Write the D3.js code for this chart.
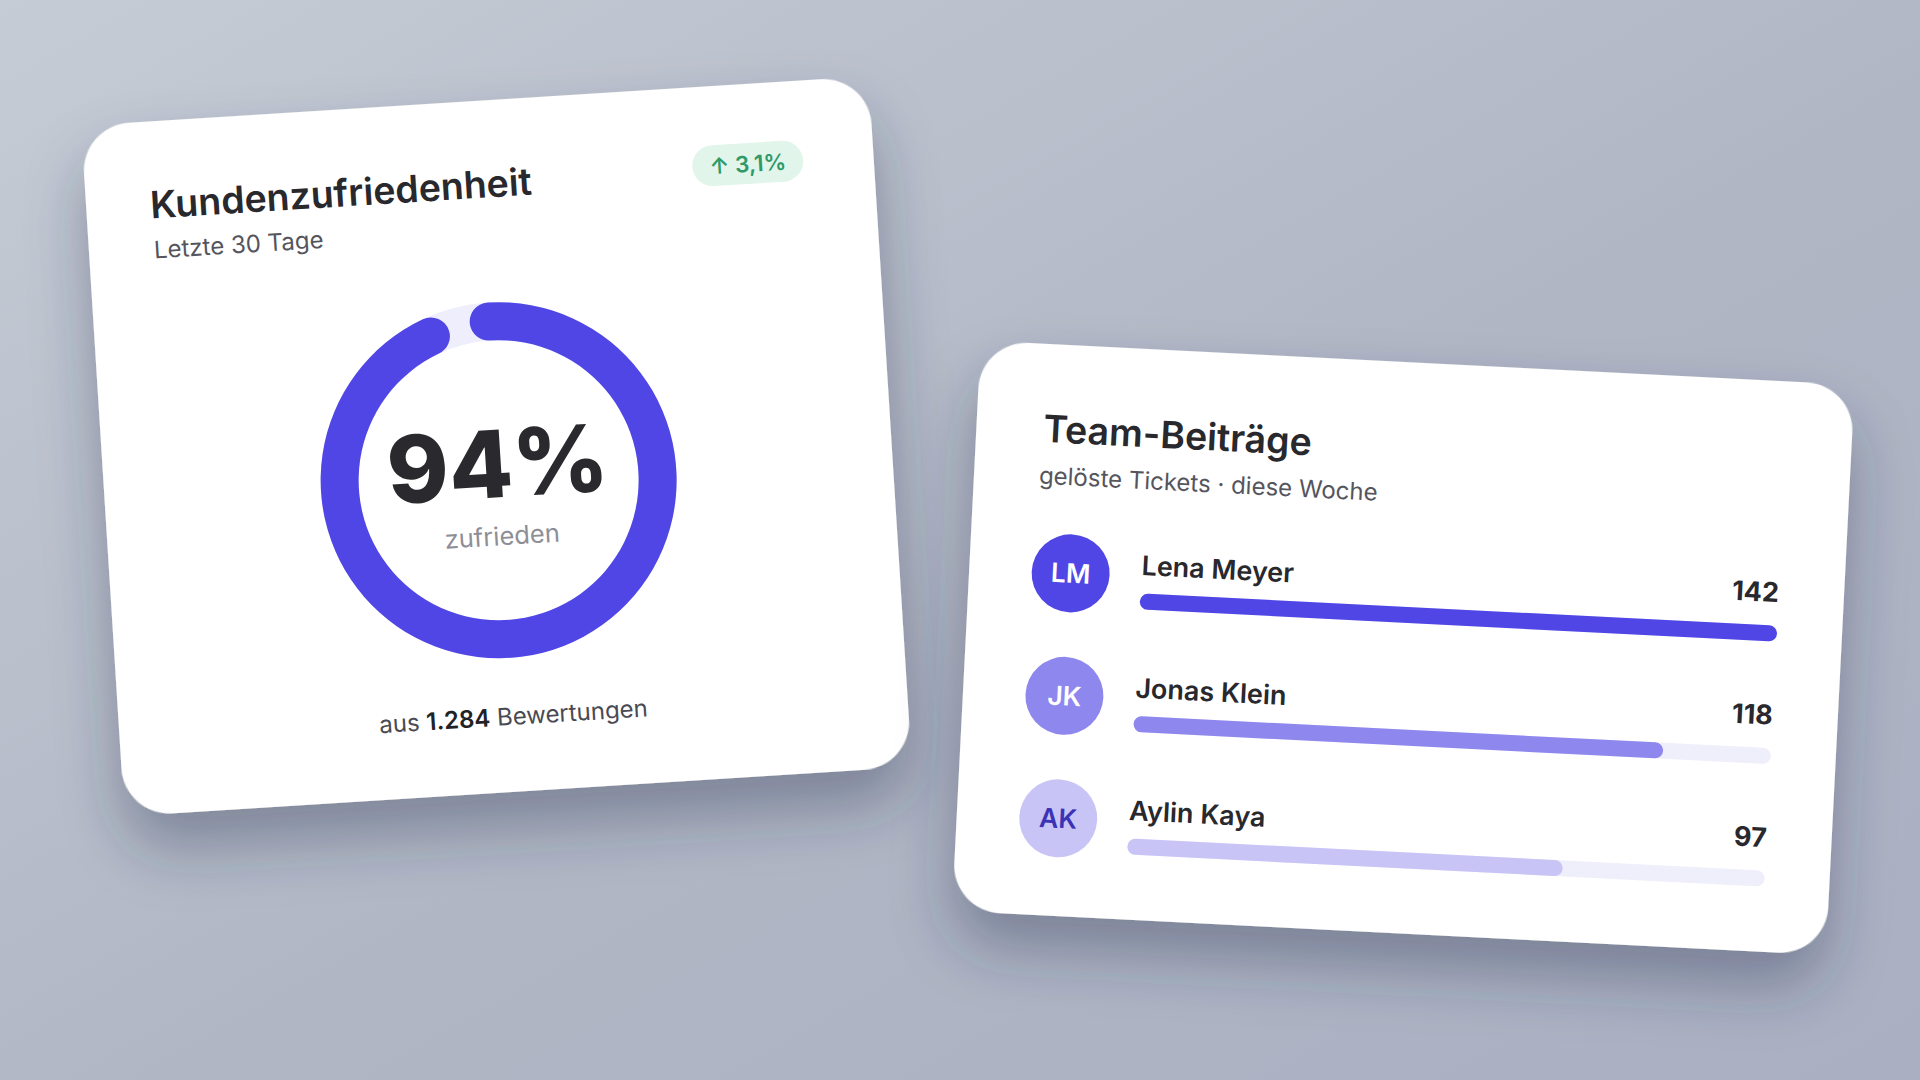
<!DOCTYPE html>
<html>
<head>
<meta charset="utf-8">
<script src="https://cdn.jsdelivr.net/npm/d3@7"></script>
<style>
  html, body { margin: 0; padding: 0; overflow: hidden; }
  text { font-family: Inter, "Noto Sans", sans-serif; }
</style>
</head>
<body>
<div id="chart"></div>
<script>
//Width and height
const w = 1920;
const h = 1080;

// gauge card
const satisfied = 94;
const trend = 3.1;
const ratings = 1284;

// team card
const initials = ['LM', 'JK', 'AK'];
const names = ['Lena Meyer', 'Jonas Klein', 'Aylin Kaya'];
const tickets = [142, 118, 97];

const barColors = ['#4f46e5', '#8e88ee', '#c8c4f6'];
const initialColors = ['#ffffff', '#ffffff', '#3b33b5'];

const de = d3.formatLocale({decimal: ',', thousands: '.', grouping: [3], currency: ['', ' €']});

//Create SVG element
const svg = d3.select('#chart')
      .append('svg')
      .attr('width', w)
      .attr('height', h);

const defs = svg.append('defs');

const bg = defs.append('linearGradient')
      .attr('id', 'bg')
      .attr('x1', 0).attr('y1', 0)
      .attr('x2', 1).attr('y2', 1);
bg.append('stop').attr('offset', '0%').attr('stop-color', '#c6ccd5');
bg.append('stop').attr('offset', '55%').attr('stop-color', '#b0b6c4');
bg.append('stop').attr('offset', '100%').attr('stop-color', '#aab0c2');

const shadow = defs.append('filter')
      .attr('id', 'shadow')
      .attr('x', '-30%').attr('y', '-30%')
      .attr('width', '160%').attr('height', '170%');
shadow.append('feDropShadow')
      .attr('dx', 0)
      .attr('dy', 34)
      .attr('stdDeviation', 30)
      .attr('flood-color', '#2b3350')
      .attr('flood-opacity', 0.38);

svg.append('rect')
   .attr('width', w)
   .attr('height', h)
   .attr('fill', 'url(#bg)');

// card helper: centred + rotated group
function card(cx, cy, cw, ch, angle) {
  const g = svg.append('g')
        .attr('transform', 'translate(' + cx + ',' + cy + ') rotate(' + angle + ') translate(' + (-cw / 2) + ',' + (-ch / 2) + ')');
  g.append('rect')
   .attr('width', cw)
   .attr('height', ch)
   .attr('rx', 48)
   .attr('fill', '#ffffff')
   .attr('filter', 'url(#shadow)');
  return g;
}

/* ---------- Kundenzufriedenheit ---------- */
const c1w = 789, c1h = 692;
const c1 = card(496.5, 446.3, c1w, c1h, -3.6);

c1.append('text')
  .text('Kundenzufriedenheit')
  .attr('x', 64)
  .attr('y', 97)
  .attr('font-size', 37.5)
  .attr('font-weight', 600)
  .attr('fill', '#28282d');

c1.append('text')
  .text('Letzte 30 Tage')
  .attr('x', 65)
  .attr('y', 137)
  .attr('font-size', 24)
  .attr('fill', '#55555d');

// trend badge
c1.append('rect')
  .attr('x', 607.5)
  .attr('y', 59)
  .attr('width', 111)
  .attr('height', 41)
  .attr('rx', 20.5)
  .attr('fill', '#e2f5eb');

c1.append('text')
  .text('↑ ' + de.format('.1f')(trend) + '%')
  .attr('x', 663)
  .attr('y', 88)
  .attr('text-anchor', 'middle')
  .attr('font-size', 22.5)
  .attr('font-weight', 600)
  .attr('fill', '#2e9a68');

// donut
const angle = d3.scaleLinear()
        .domain([0, 100])
        .range([0, 2 * Math.PI]);

const rIn = 140, rOut = 178;
const cap = ((rOut - rIn) / 2) / ((rOut + rIn) / 2);

const donut = c1.append('g')
      .attr('transform', 'translate(' + (c1w / 2) + ',380)');

donut.append('path')
     .attr('d', d3.arc()
        .innerRadius(rIn)
        .outerRadius(rOut)
        .startAngle(angle(0))
        .endAngle(angle(100))())
     .attr('fill', '#efeefc');

donut.append('path')
     .attr('d', d3.arc()
        .innerRadius(rIn)
        .outerRadius(rOut)
        .cornerRadius((rOut - rIn) / 2)
        .startAngle(angle(0) - cap)
        .endAngle(angle(satisfied) + cap)())
     .attr('fill', '#4f46e5');

donut.append('text')
     .text(satisfied + '%')
     .attr('x', 0)
     .attr('y', 17)
     .attr('text-anchor', 'middle')
     .attr('font-size', 93)
     .attr('font-weight', 800)
     .attr('fill', '#2a2a2e');

donut.append('text')
     .text('zufrieden')
     .attr('x', 0)
     .attr('y', 65)
     .attr('text-anchor', 'middle')
     .attr('font-size', 25.5)
     .attr('fill', '#8e8e97');

const foot = c1.append('text')
      .attr('x', c1w / 2)
      .attr('y', 625)
      .attr('text-anchor', 'middle')
      .attr('font-size', 24)
      .attr('fill', '#4a4a52');
foot.append('tspan').text('aus ');
foot.append('tspan').text(de.format(',')(ratings)).attr('font-weight', 600).attr('fill', '#222226');
foot.append('tspan').text(' Bewertungen');

/* ---------- Team-Beiträge ---------- */
const c2w = 875, c2h = 571;
const c2 = card(1403.3, 647.8, c2w, c2h, 2.9);

c2.append('text')
  .text('Team-Beiträge')
  .attr('x', 67)
  .attr('y', 98)
  .attr('font-size', 37.5)
  .attr('font-weight', 600)
  .attr('fill', '#28282d');

c2.append('text')
  .text('gelöste Tickets · diese Woche')
  .attr('x', 65)
  .attr('y', 140)
  .attr('font-size', 24)
  .attr('fill', '#55555d');

const xScale = d3.scaleLinear()
        .domain([0, d3.max(tickets)])
        .range([172, 810]);

const yScale = d3.scalePoint()
        .domain(d3.range(names.length))
        .range([228, 473.3]);

const rows = c2.selectAll('g.row')
      .data(names)
      .enter()
      .append('g')
      .attr('class', 'row')
      .attr('transform', function(d, i) {
         return 'translate(0,' + yScale(i) + ')';
      });

rows.append('circle')
    .attr('cx', 101.5)
    .attr('cy', 0)
    .attr('r', 39)
    .attr('fill', function(d, i) {
       return barColors[i];
    });

rows.append('text')
    .text(function(d, i) {
       return initials[i];
    })
    .attr('x', 101.5)
    .attr('y', 9.5)
    .attr('text-anchor', 'middle')
    .attr('font-size', 26.5)
    .attr('font-weight', 600)
    .attr('fill', function(d, i) {
       return initialColors[i];
    });

rows.append('text')
    .text(function(d) {
       return d;
    })
    .attr('x', xScale(0))
    .attr('y', -2)
    .attr('font-size', 27)
    .attr('font-weight', 600)
    .attr('fill', '#28282d');

rows.append('text')
    .text(function(d, i) {
       return tickets[i];
    })
    .attr('x', xScale(d3.max(tickets)))
    .attr('y', -7)
    .attr('text-anchor', 'end')
    .attr('font-size', 27)
    .attr('font-weight', 700)
    .attr('fill', '#28282d');

// track
rows.append('rect')
    .attr('x', xScale(0))
    .attr('y', 16.5)
    .attr('width', xScale(d3.max(tickets)) - xScale(0))
    .attr('height', 16)
    .attr('rx', 8)
    .attr('fill', '#efeefb');

// bars
rows.append('rect')
    .attr('x', xScale(0))
    .attr('y', 16.5)
    .attr('width', function(d, i) {
       return xScale(tickets[i]) - xScale(0);
    })
    .attr('height', 16)
    .attr('rx', 8)
    .attr('fill', function(d, i) {
       return barColors[i];
    });
</script>
</body>
</html>
